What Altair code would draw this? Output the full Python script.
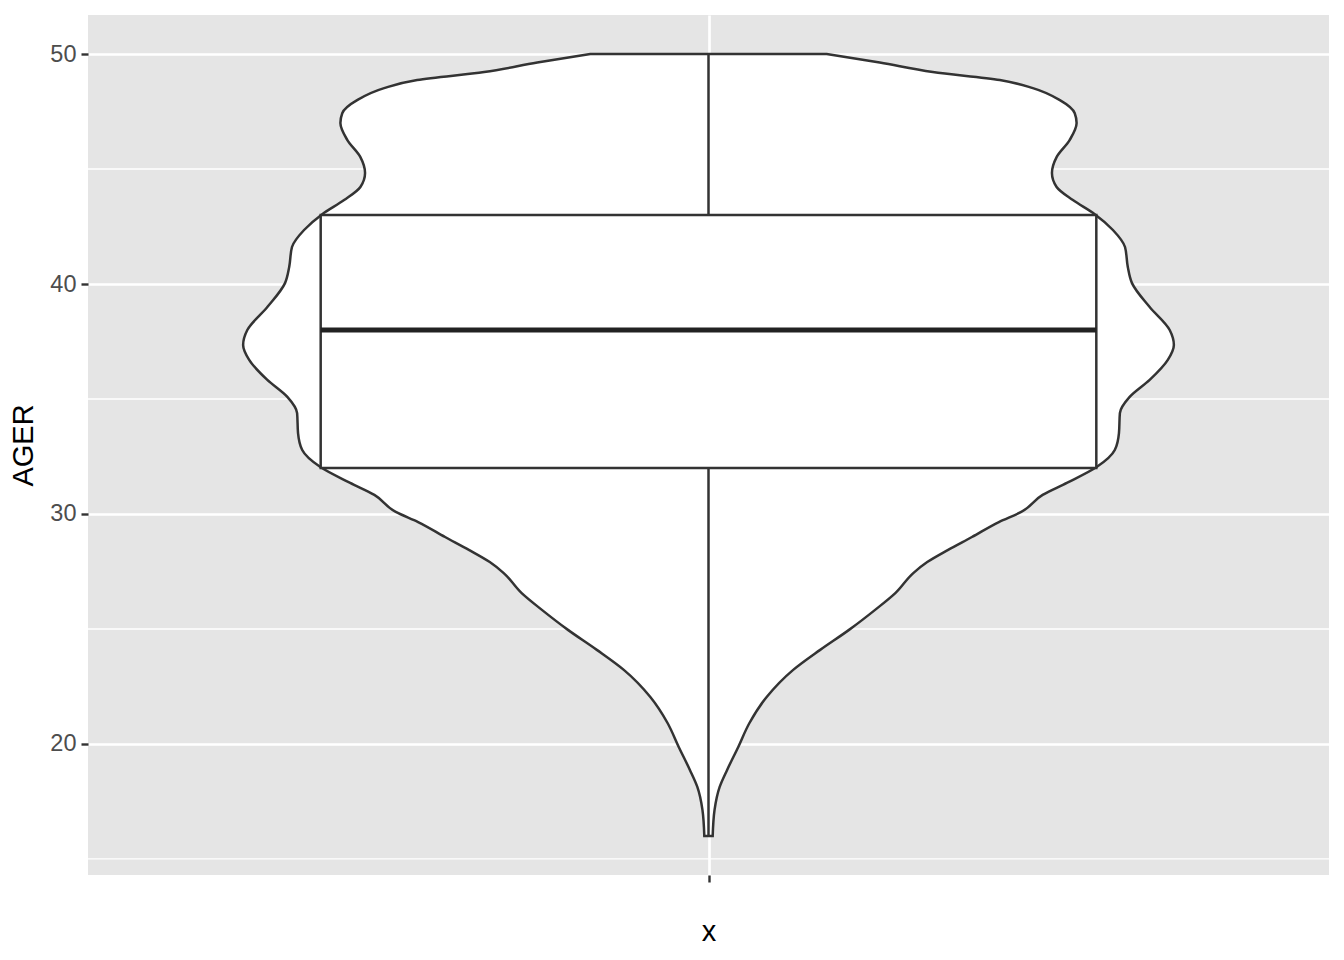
import altair as alt
import pandas as pd

# Violin outline: AGER values and density scaled so that max = 1
violin_y = [50.00, 49.63, 49.22, 48.87, 48.52, 48.00, 47.43, 47.00, 46.26, 45.52,
            44.83, 44.22, 43.65, 43.04, 42.35, 41.61, 40.74, 40.04, 39.00, 38.00,
            37.35, 36.70, 35.83, 35.09, 34.39, 33.52, 32.78, 32.04, 31.35, 30.83,
            30.09, 29.65, 29.00, 28.43, 27.91, 27.43, 26.57, 25.83, 24.96, 24.09,
            23.22, 22.04, 20.91, 19.87, 18.87, 18.13, 17.13, 16.00]
violin_density = [0.254, 0.368, 0.482, 0.626, 0.697, 0.755, 0.787, 0.791, 0.776, 0.748,
                  0.738, 0.748, 0.783, 0.830, 0.869, 0.895, 0.901, 0.910, 0.948, 0.991,
                  1.000, 0.987, 0.948, 0.905, 0.884, 0.882, 0.873, 0.834, 0.770, 0.718,
                  0.672, 0.624, 0.566, 0.514, 0.470, 0.440, 0.402, 0.358, 0.302, 0.240,
                  0.182, 0.125, 0.088, 0.064, 0.040, 0.024, 0.013, 0.009]

# Box plot statistics
box_lower = [16]
box_q1 = [32]
box_median = [38]
box_q3 = [43]
box_upper = [50]

major_breaks = [20, 30, 40, 50]
minor_breaks = [15, 25, 35, 45]

INK = "#333333"
BG = "#E5E5E5"
Y_DOMAIN = [14.3, 51.7]
X_DOMAIN = [-0.6, 0.6]
LW = 2.5

violin_df = pd.DataFrame({"AGER": violin_y, "density": violin_density})
box_df = pd.DataFrame({"lower": box_lower, "q1": box_q1, "median": box_median,
                       "q3": box_q3, "upper": box_upper})
minor_df = pd.DataFrame({"b": minor_breaks})

yscale = alt.Scale(domain=Y_DOMAIN, nice=False, zero=False)
xscale = alt.Scale(domain=X_DOMAIN, nice=False, zero=False)

x_axis = alt.Axis(values=[0], labelExpr="''", title="x", grid=True,
                  gridColor="white", gridWidth=2.7, tickColor=INK, tickWidth=2.4,
                  tickSize=7, domain=False, titleFont="Liberation Sans",
                  titleFontSize=29, titleFontWeight="normal", titleColor="black",
                  titlePadding=25, labelPadding=0)
y_axis = alt.Axis(values=major_breaks, title="AGER", grid=True, gridColor="white",
                  gridWidth=2.7, tickColor=INK, tickWidth=2.4, tickSize=7,
                  domain=False, labelFont="Liberation Sans", labelFontSize=23.5,
                  labelColor="#4D4D4D", labelPadding=5, titleFont="Liberation Sans",
                  titleFontSize=29, titleFontWeight="normal", titleColor="black",
                  titlePadding=11)

minor = alt.Chart(minor_df).mark_rule(color="white", strokeWidth=1.4).encode(
    y=alt.Y("b:Q", scale=yscale, axis=y_axis),
)

base_axes = alt.Chart(minor_df).mark_point(opacity=0).encode(
    x=alt.X("xx:Q", scale=xscale, axis=x_axis),
    y=alt.Y("b:Q", scale=yscale, axis=y_axis),
).transform_calculate(xx="0")

violin = alt.Chart(violin_df).transform_calculate(
    lo="-0.45 * datum.density", hi="0.45 * datum.density"
).mark_area(orient="horizontal", fill="white", stroke=INK, strokeWidth=LW,
            interpolate="monotone").encode(
    y=alt.Y("AGER:Q", scale=yscale),
    x=alt.X("lo:Q", scale=xscale),
    x2=alt.X2("hi:Q"),
)

whisker_low = alt.Chart(box_df).mark_rule(color=INK, strokeWidth=LW).encode(
    x=alt.X("c:Q", scale=xscale),
    y=alt.Y("lower:Q", scale=yscale), y2="q1:Q",
).transform_calculate(c="0")

whisker_high = alt.Chart(box_df).mark_rule(color=INK, strokeWidth=LW).encode(
    x=alt.X("c:Q", scale=xscale),
    y=alt.Y("q3:Q", scale=yscale), y2="upper:Q",
).transform_calculate(c="0")

box = alt.Chart(box_df).mark_rect(fill="white", stroke=INK, strokeWidth=LW).encode(
    x=alt.X("l:Q", scale=xscale), x2="r:Q",
    y=alt.Y("q1:Q", scale=yscale), y2="q3:Q",
).transform_calculate(l="-0.375", r="0.375")

median = alt.Chart(box_df).mark_rule(color="#222222", strokeWidth=5).encode(
    x=alt.X("l:Q", scale=xscale), x2="r:Q",
    y=alt.Y("median:Q", scale=yscale),
).transform_calculate(l="-0.375", r="0.375")

chart = alt.layer(
    base_axes, minor, violin, whisker_low, whisker_high, box, median
).properties(
    width=1241, height=860,
    autosize=alt.AutoSizeParams(type="none"),
    padding={"left": 80, "top": 7, "right": 7, "bottom": 77},
).configure_view(
    fill=BG, stroke=None
).configure_axis(
    labelFont="Liberation Sans", titleFont="Liberation Sans"
)

chart.save("out.html", embed_options={"renderer": "svg", "actions": False})
